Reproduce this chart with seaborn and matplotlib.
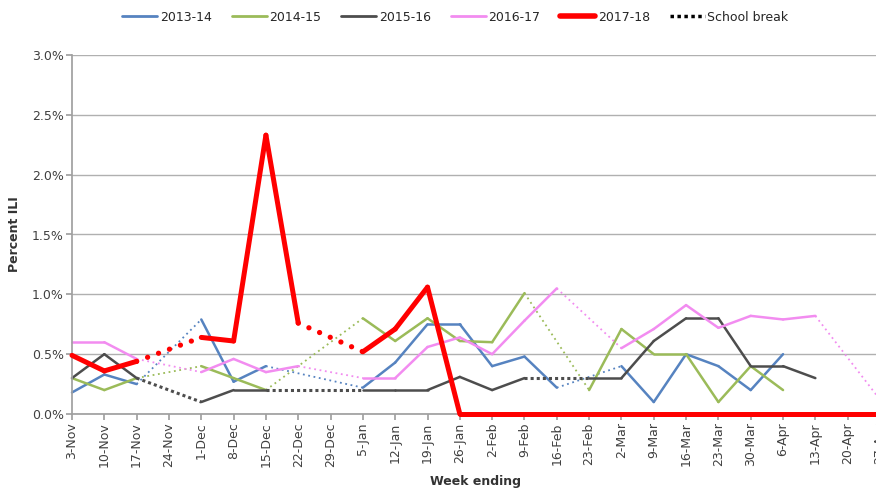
import numpy as np
import pandas as pd
import seaborn as sns
import matplotlib.pyplot as plt
from matplotlib.lines import Line2D

# Week ending labels (27-Apr is cut off at the right edge)
weeks = ['3-Nov', '10-Nov', '17-Nov', '24-Nov', '1-Dec', '8-Dec', '15-Dec', '22-Dec',
         '29-Dec', '5-Jan', '12-Jan', '19-Jan', '26-Jan', '2-Feb', '9-Feb', '16-Feb',
         '23-Feb', '2-Mar', '9-Mar', '16-Mar', '23-Mar', '30-Mar', '6-Apr', '13-Apr',
         '20-Apr', '27-Apr']

nan = np.nan
# Percent ILI per season (nan = no data)
ili_2013_14 = [0.18, 0.33, 0.25, nan, 0.79, 0.27, 0.40, nan, nan, 0.22, 0.43, 0.75, 0.75,
               0.40, 0.48, 0.22, nan, 0.40, 0.10, 0.50, 0.40, 0.20, 0.50, nan, nan, nan]
ili_2014_15 = [0.30, 0.20, 0.30, nan, 0.40, 0.30, 0.20, nan, nan, 0.80, 0.61, 0.80, 0.61,
               0.60, 1.01, nan, 0.20, 0.71, 0.50, 0.50, 0.10, 0.40, 0.20, nan, nan, nan]
ili_2015_16 = [0.30, 0.50, 0.30, nan, 0.10, 0.20, 0.20, nan, nan, 0.20, 0.20, 0.20, 0.31,
               0.20, 0.30, nan, 0.30, 0.30, 0.61, 0.80, 0.80, 0.40, 0.40, 0.30, nan, nan]
ili_2016_17 = [0.60, 0.60, 0.46, 0.37, 0.35, 0.46, 0.35, 0.40, nan, 0.30, 0.30, 0.56, 0.64,
               0.50, 0.78, 1.05, nan, 0.55, 0.71, 0.91, 0.72, 0.82, 0.79, 0.82, nan, 0.12]
ili_2017_18 = [0.49, 0.36, 0.44, nan, 0.64, 0.61, 2.33, 0.76, nan, 0.52, 0.71, 1.06, 0.0,
               0.0, 0.0, 0.0, 0.0, 0.0, 0.0, 0.0, 0.0, 0.0, 0.0, 0.0, 0.0, 0.0]

# school break spans (start index, end index) per season
breaks_2013_14 = [(2, 4), (6, 9), (15, 17)]
breaks_2014_15 = [(2, 4), (6, 9), (14, 16)]
breaks_2015_16 = [(2, 4), (6, 9), (14, 16)]
breaks_2016_17 = [(2, 4), (7, 9), (15, 17), (23, 25)]
breaks_2017_18 = [(2, 4), (7, 9)]

seasons = ['2013-14', '2014-15', '2015-16', '2016-17', '2017-18']
values = [ili_2013_14, ili_2014_15, ili_2015_16, ili_2016_17, ili_2017_18]
breaks = [breaks_2013_14, breaks_2014_15, breaks_2015_16, breaks_2016_17, breaks_2017_18]
colors = ['#5683c0', '#9bbb59', '#4d4d4d', '#f28cf0', '#ff0000']
widths = [1.8, 1.8, 1.8, 1.8, 3.6]

sns.set_theme(style='white')
plt.rcParams['font.family'] = ['DejaVu Sans']

fig = plt.figure(figsize=(8.76, 4.94), dpi=100)
ax = fig.add_axes([72 / 876, 80 / 494, 808 / 876, 359 / 494])

x = np.arange(len(weeks))
for season, vals, brk, col, lw in zip(seasons, values, breaks, colors, widths):
    vals = np.array(vals, dtype=float)
    in_break = np.zeros(len(weeks), dtype=bool)
    for a, b in brk:
        in_break[a:b] = True
    df = pd.DataFrame({'x': x, 'y': vals})
    # solid segments outside the breaks
    for i in range(len(weeks) - 1):
        if in_break[i] or np.isnan(vals[i]) or np.isnan(vals[i + 1]):
            continue
        sns.lineplot(data=df.iloc[i:i + 2], x='x', y='y', ax=ax, color=col,
                     linewidth=lw, estimator=None, sort=False, legend=False,
                     solid_capstyle='round', clip_on=False, zorder=3 if lw > 3 else 2)
    # dotted line across each break
    for a, b in brk:
        seg = df.iloc[[a, b]]
        if seg['y'].isna().any():
            continue
        if season == '2017-18':
            sns.lineplot(data=seg, x='x', y='y', ax=ax, color=col, linewidth=3.8,
                         linestyle=(0, (0.01, 2.2)), dash_capstyle='round',
                         estimator=None, sort=False, legend=False, zorder=3)
        elif season == '2015-16':
            sns.lineplot(data=seg, x='x', y='y', ax=ax, color=col, linewidth=2.2,
                         linestyle=(0, (1, 1)), estimator=None, sort=False, legend=False)
        else:
            sns.lineplot(data=seg, x='x', y='y', ax=ax, color=col, linewidth=1.3,
                         linestyle=(0, (1, 2)), estimator=None, sort=False, legend=False)

ax.set_xlim(0, 25)
ax.set_ylim(0, 3.0)
ax.set_yticks(np.arange(0, 3.01, 0.5))
ax.set_yticklabels([f'{v:.1f}%' for v in np.arange(0, 3.01, 0.5)], fontsize=9, color='#404040')
ax.set_xticks(x)
ax.set_xticklabels(weeks, rotation=90, fontsize=9, color='#404040')
ax.yaxis.grid(True, color='#b0b0b0', linewidth=1)
ax.set_axisbelow(True)
for s in ['top', 'right']:
    ax.spines[s].set_visible(False)
for s in ['left', 'bottom']:
    ax.spines[s].set_color('#a0a0a0')
ax.tick_params(axis='both', which='both', direction='out', length=4, color='#a0a0a0',
               bottom=True, left=True, pad=2)
ax.set_xlabel('Week ending', fontsize=9, fontweight='bold', color='#333333', labelpad=6)
ax.set_ylabel('Percent ILI', fontsize=9, fontweight='bold', color='#333333', labelpad=8)

handles = [Line2D([], [], color=c, linewidth=(2 if lw < 3 else 4)) for c, lw in zip(colors, widths)]
handles.append(Line2D([], [], color='black', linewidth=2.5, linestyle=(0, (1, 1))))
fig.legend(handles, seasons + ['School break'], loc='center', bbox_to_anchor=(0.52, 0.965),
           ncol=6, frameon=False, fontsize=9, handlelength=2.8, handletextpad=0.2,
           columnspacing=1.6)

fig.savefig('out.png', dpi=100)
